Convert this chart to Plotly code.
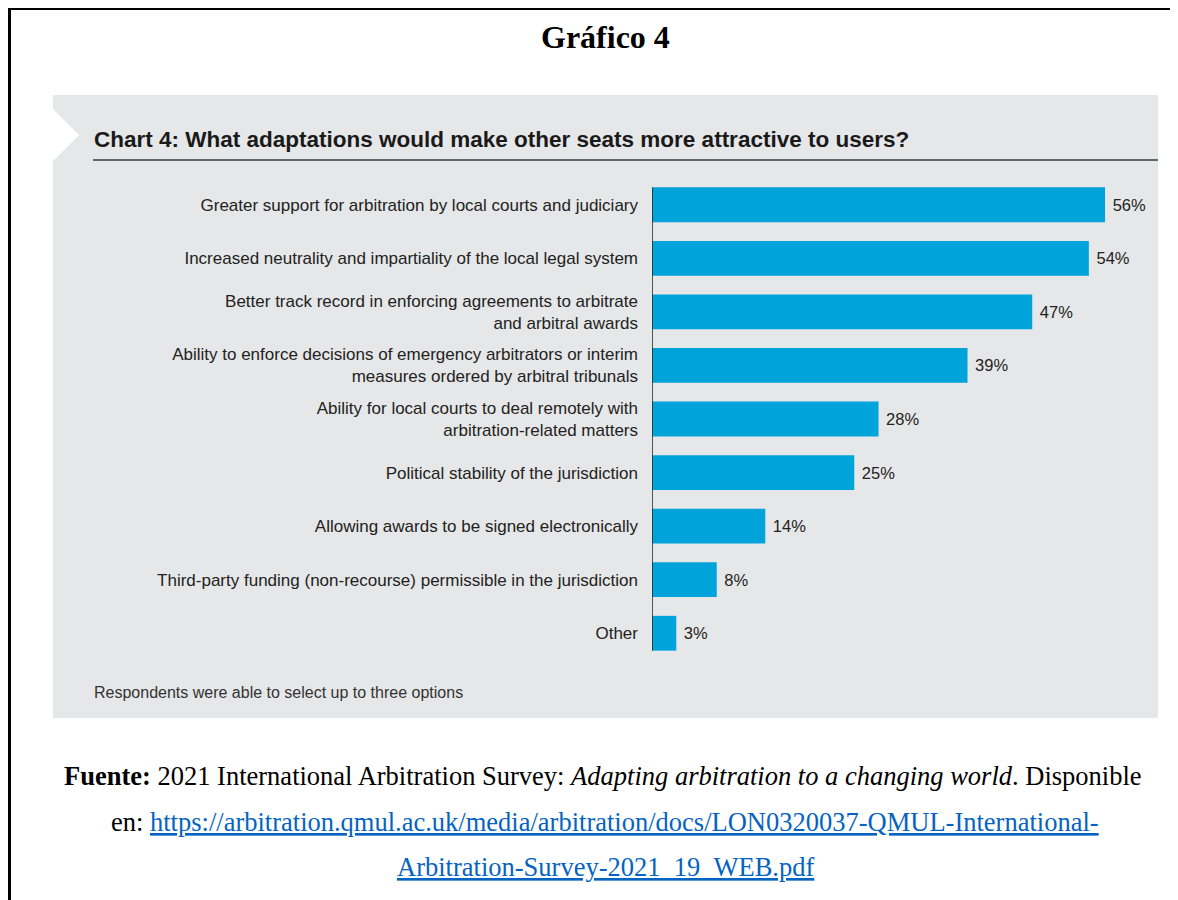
import plotly.graph_objects as go

categories = [
    "Greater support for arbitration by local courts and judiciary",
    "Increased neutrality and impartiality of the local legal system",
    "Better track record in enforcing agreements to arbitrate<br>and arbitral awards",
    "Ability to enforce decisions of emergency arbitrators or interim<br>measures ordered by arbitral tribunals",
    "Ability for local courts to deal remotely with<br>arbitration-related matters",
    "Political stability of the jurisdiction",
    "Allowing awards to be signed electronically",
    "Third-party funding (non-recourse) permissible in the jurisdiction",
    "Other",
]
values = [56, 54, 47, 39, 28, 25, 14, 8, 3]

TOP_TITLE = "Gráfico 4"
CHART_TITLE = "Chart 4: What adaptations would make other seats more attractive to users?"
NOTE = "Respondents were able to select up to three options"
URL = "https://arbitration.qmul.ac.uk/media/arbitration/docs/LON0320037-QMUL-International-Arbitration-Survey-2021_19_WEB.pdf"

# page body has an 8px margin; figure is sized to fit the window
OFF = 8
W, H = 1178 - OFF, 900 - OFF
ML, MR, MT, MB = 652 - OFF, 20, 178 - OFF, 240
PW = W - ML - MR
PH = H - MT - MB

def px(x):
    return (x - OFF - ML) / PW

def py(y):
    return (H - MB - (y - OFF)) / PH

BAR = "#00A3DA"
GRAY = "#E6E7E8"
BW = 0.65

serif = "Liberation Serif, Times New Roman, serif"
sans = "Liberation Sans, Arial, sans-serif"
LINK = "#0563C1"

fig = go.Figure()
fig.add_trace(go.Bar(
    x=values, y=categories, orientation="h",
    marker=dict(color=BAR, line=dict(width=0)),
    width=BW,
    text=values, texttemplate="\u00a0%{x}%", textposition="outside",
    textfont=dict(family=sans, size=16.5, color="#222222"),
    cliponaxis=False, hoverinfo="skip",
))

shapes = [
    # gray panel
    dict(type="rect", xref="paper", yref="paper", x0=px(53), x1=px(1158), y0=py(95), y1=py(718),
         fillcolor=GRAY, line=dict(width=0), layer="below"),
    # white chevron notch
    dict(type="path", xref="paper", yref="paper",
         path=f"M {px(52)} {py(108)} L {px(79)} {py(135)} L {px(52)} {py(162)} Z",
         fillcolor="white", line=dict(width=0), layer="below"),
    # rule under chart title
    dict(type="line", xref="paper", yref="paper", x0=px(93), x1=px(1158), y0=py(160), y1=py(160),
         line=dict(color="#3a3a3a", width=1.5)),
    # value axis baseline
    dict(type="line", xref="x", yref="y", x0=0, x1=0, y0=-BW / 2, y1=len(categories) - 1 + BW / 2,
         line=dict(color="#222222", width=1.5)),
    # page frame
    dict(type="line", xref="paper", yref="paper", x0=px(OFF + 1.5), x1=px(OFF + 1.5), y0=py(OFF), y1=py(905),
         line=dict(color="black", width=3)),
    dict(type="line", xref="paper", yref="paper", x0=px(OFF), x1=px(1185), y0=py(OFF + 1), y1=py(OFF + 1),
         line=dict(color="black", width=2)),
]

annotations = [
    dict(text=f"<b>{TOP_TITLE}</b>", x=px(605), y=py(37), xref="paper", yref="paper",
         showarrow=False, xanchor="center", yanchor="middle",
         font=dict(family=serif, size=32, color="black")),
    dict(text=f"<b>{CHART_TITLE}</b>", x=px(92), y=py(139), xref="paper", yref="paper",
         showarrow=False, xanchor="left", yanchor="middle",
         font=dict(family=sans, size=22.5, color="#1a1a1a")),
    dict(text=NOTE, x=px(92), y=py(692), xref="paper", yref="paper",
         showarrow=False, xanchor="left", yanchor="middle",
         font=dict(family=sans, size=16, color="#333333")),
    dict(text="<b>Fuente:</b> 2021 International Arbitration Survey: <i>Adapting arbitration to a changing world</i>. Disponible",
         x=px(603), y=py(776), xref="paper", yref="paper", showarrow=False,
         xanchor="center", yanchor="middle", font=dict(family=serif, size=26.5, color="black")),
    dict(text=f"en: <a href=\"{URL}\" style=\"color:{LINK};text-decoration:underline\">https://arbitration.qmul.ac.uk/media/arbitration/docs/LON0320037-QMUL-International-</a>",
         x=px(605), y=py(822), xref="paper", yref="paper", showarrow=False,
         xanchor="center", yanchor="middle", font=dict(family=serif, size=26.5, color="black")),
    dict(text=f"<a href=\"{URL}\" style=\"color:{LINK};text-decoration:underline\">Arbitration-Survey-2021_19_WEB.pdf</a>",
         x=px(605), y=py(867), xref="paper", yref="paper", showarrow=False,
         xanchor="center", yanchor="middle", font=dict(family=serif, size=26.5, color=LINK)),
]

fig.update_layout(
    width=W, height=H,
    margin=dict(l=ML, r=MR, t=MT, b=MB, autoexpand=False),
    paper_bgcolor="white", plot_bgcolor="rgba(0,0,0,0)",
    showlegend=False,
    shapes=shapes, annotations=annotations,
    xaxis=dict(range=[0, PW / 8.09], visible=False, fixedrange=True),
    yaxis=dict(type="category", categoryorder="array", categoryarray=categories,
               range=[len(categories) - 0.5, -0.5], showgrid=False, showline=False,
               zeroline=False, ticks="", ticklabelstandoff=13, automargin=False,
               tickfont=dict(family=sans, size=17, color="#222222"), fixedrange=True),
)

fig.write_html("out.html")
